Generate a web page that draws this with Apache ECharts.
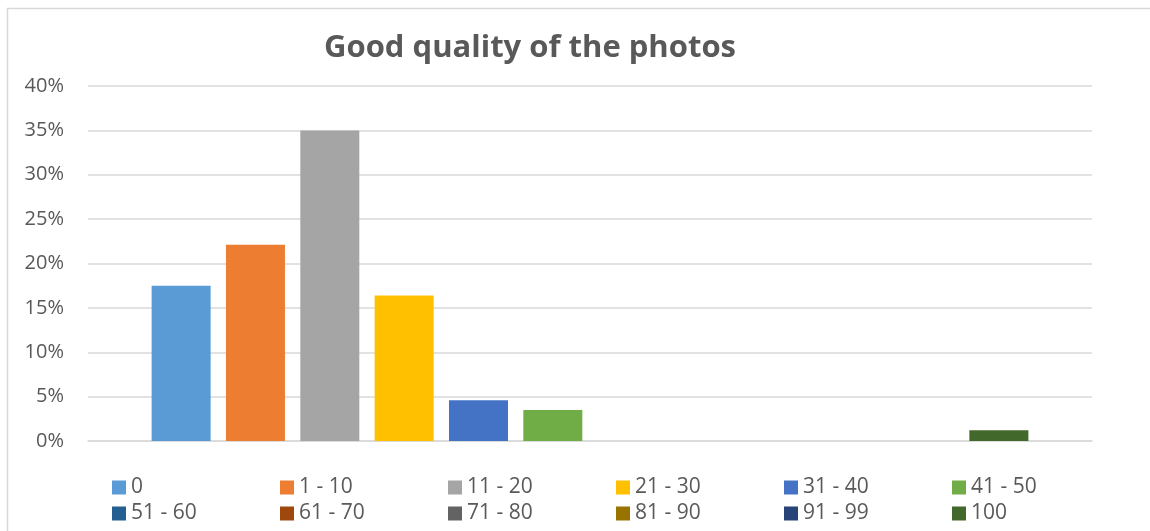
<!DOCTYPE html>
<html>
<head>
<meta charset="utf-8">
<title>Good quality of the photos</title>
<script src="https://cdn.jsdelivr.net/npm/echarts@6/dist/echarts.min.js"></script>
<style>
    html, body { margin: 0; padding: 0; background: #fff; }
    #chart { width: 1150px; height: 531px; }
</style>
</head>
<body>
<div id="chart"></div>
<script>
    // score buckets (one series each, like the Excel chart)
    const buckets = ['0', '1 - 10', '11 - 20', '21 - 30', '31 - 40', '41 - 50',
                     '51 - 60', '61 - 70', '71 - 80', '81 - 90', '91 - 99', '100'];
    // share of answers, in %
    const shares = [17.5, 22.1, 35.0, 16.4, 4.6, 3.5, 0, 0, 0, 0, 0, 1.2];
    const colors = ['#5B9BD5', '#ED7D31', '#A5A5A5', '#FFC000', '#4472C4', '#70AD47',
                    '#255E91', '#9E480E', '#636363', '#997300', '#264478', '#43682B'];
    const yTicks = [0, 5, 10, 15, 20, 25, 30, 35, 40];

    const font = '"Open Sans", "Liberation Sans", sans-serif';
    const textColor = '#595959';

    const chart = echarts.init(document.getElementById('chart'));

    // one legend per item so the columns line up like in Excel
    const legends = buckets.map((name, i) => ({
        data: [name],
        left: 112 + (i % 6) * 168,
        top: 477 + Math.floor(i / 6) * 26,
        itemWidth: 14,
        itemHeight: 14,
        icon: 'rect',
        itemGap: 0,
        padding: 0,
        selectedMode: false,
        textStyle: { color: textColor, fontFamily: font, fontSize: 21, lineHeight: 20 }
    }));

    const series = buckets.map((name, i) => ({
        name: name,
        type: 'bar',
        data: [shares[i]],
        barWidth: 59,
        barGap: '26%',
        itemStyle: { color: colors[i] }
    }));

    chart.setOption({
        animation: false,
        title: {
            text: 'Good quality of the photos',
            left: 525,
            textAlign: 'center',
            top: 28,
            textStyle: { color: textColor, fontFamily: font, fontSize: 31, fontWeight: 'bold' }
        },
        legend: legends,
        graphic: [{
            type: 'rect',
            shape: { x: 7.5, y: 8.5, width: 1300, height: 700 },
            style: { fill: 'none', stroke: '#d9d9d9', lineWidth: 1.5 },
            silent: true
        }],
        grid: { left: 88, right: 58, top: 86, bottom: 90 },
        xAxis: {
            type: 'category',
            data: [''],
            axisLine: { lineStyle: { color: '#d9d9d9', width: 1.5 } },
            axisTick: { show: false },
            axisLabel: { show: false }
        },
        yAxis: {
            type: 'value',
            min: yTicks[0],
            max: yTicks[yTicks.length - 1],
            interval: yTicks[1] - yTicks[0],
            axisLine: { show: false },
            axisTick: { show: false },
            splitLine: { lineStyle: { color: '#d9d9d9', width: 1.5 } },
            axisLabel: {
                formatter: '{value}%',
                margin: 24,
                color: textColor,
                fontFamily: font,
                fontSize: 20
            }
        },
        series: series
    });
</script>
</body>
</html>
